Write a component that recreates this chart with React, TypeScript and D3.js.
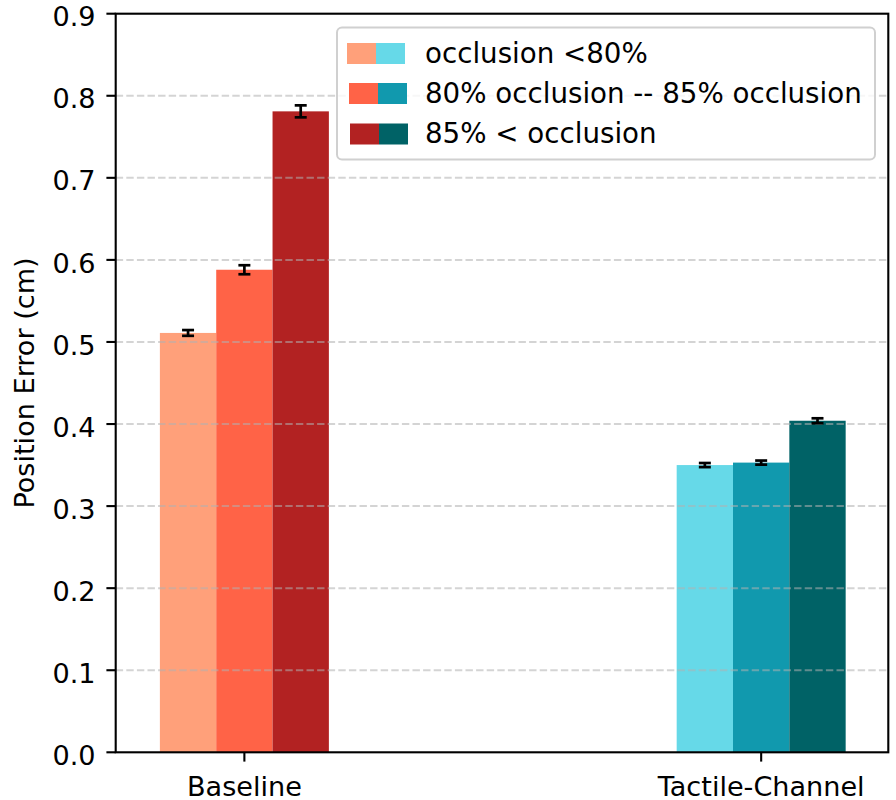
import React, { useEffect, useRef } from "react";
import * as d3 from "d3";

// chart values
const groups = ["Baseline", "Tactile-Channel"];
const levels = [
  "occlusion <80%",
  "80% occlusion -- 85% occlusion",
  "85% < occlusion",
];
const baselineMeans = [0.511, 0.588, 0.781];
const baselineErrs = [0.0035, 0.0055, 0.0073];
const tactileMeans = [0.35, 0.353, 0.404];
const tactileErrs = [0.0025, 0.0025, 0.003];
const baselineColors = ["#FFA07A", "#FF6347", "#B22222"];
const tactileColors = ["#66D9E8", "#1199AE", "#006266"];
const yTickValues = [0, 0.1, 0.2, 0.3, 0.4, 0.5, 0.6, 0.7, 0.8, 0.9];

export default function App() {
  const ref = useRef<SVGSVGElement | null>(null);

  useEffect(() => {
    const width = 896;
    const height = 800;
    const left = 115.7;
    const right = 888.3;
    const top = 13.7;
    const bottom = 752.3;
    const fontSize = 27.1;
    const legendFont = 27.7;
    const barWidth = 0.109;
    const font = "DejaVu Sans, sans-serif";

    const svg = d3.select(ref.current);
    svg.selectAll("*").remove();
    svg.attr("width", width).attr("height", height);

    const x = d3.scaleLinear().domain([-0.249, 1.246]).range([left, right]);
    const y = d3.scaleLinear().domain([0, 0.9]).range([bottom, top]);

    // rows of bars: one per group
    const rows = groups.map((g, gi) => ({
      name: g,
      pos: gi,
      means: gi === 0 ? baselineMeans : tactileMeans,
      errs: gi === 0 ? baselineErrs : tactileErrs,
      colors: gi === 0 ? baselineColors : tactileColors,
    }));

    const bars = rows.flatMap((r) =>
      r.means.map((m, i) => ({
        center: r.pos + (i - 1) * barWidth,
        value: m,
        err: r.errs[i],
        color: r.colors[i],
      }))
    );

    // bars
    svg
      .append("g")
      .selectAll("rect")
      .data(bars)
      .join("rect")
      .attr("x", (d) => x(d.center - barWidth / 2))
      .attr("width", (d) => x(d.center + barWidth / 2) - x(d.center - barWidth / 2))
      .attr("y", (d) => y(d.value))
      .attr("height", (d) => y(0) - y(d.value))
      .attr("fill", (d) => d.color);

    // dashed grid, drawn above bars
    svg
      .append("g")
      .selectAll("line")
      .data(yTickValues.filter((t) => t > 0 && t < 0.9))
      .join("line")
      .attr("x1", left)
      .attr("x2", right)
      .attr("y1", (d) => y(d))
      .attr("y2", (d) => y(d))
      .attr("stroke", "#b0b0b0")
      .attr("stroke-opacity", 0.55)
      .attr("stroke-width", 2)
      .attr("stroke-dasharray", "7.4,3.2");

    // error bars
    const eb = svg.append("g").attr("stroke", "#000").attr("stroke-width", 2.7);
    bars.forEach((d) => {
      const cx = x(d.center);
      const y0 = y(d.value - d.err);
      const y1 = y(d.value + d.err);
      eb.append("line").attr("x1", cx).attr("x2", cx).attr("y1", y0).attr("y2", y1);
      [y0, y1].forEach((yy) =>
        eb
          .append("line")
          .attr("x1", cx - 6)
          .attr("x2", cx + 6)
          .attr("y1", yy)
          .attr("y2", yy)
      );
    });

    // spines
    svg
      .append("rect")
      .attr("x", left)
      .attr("y", top)
      .attr("width", right - left)
      .attr("height", bottom - top)
      .attr("fill", "none")
      .attr("stroke", "#000")
      .attr("stroke-width", 2.1);

    // y ticks
    const yAxis = svg.append("g");
    yTickValues.forEach((t) => {
      yAxis
        .append("line")
        .attr("x1", left - 9.3)
        .attr("x2", left)
        .attr("y1", y(t))
        .attr("y2", y(t))
        .attr("stroke", "#000")
        .attr("stroke-width", 2.1);
      yAxis
        .append("text")
        .attr("x", 95.5)
        .attr("y", y(t) + 12.6)
        .attr("text-anchor", "end")
        .style("font-family", font)
        .style("font-size", `${fontSize}px`)
        .text(d3.format(".1f")(t));
    });

    // x ticks
    const xAxis = svg.append("g");
    rows.forEach((r) => {
      xAxis
        .append("line")
        .attr("x1", x(r.pos))
        .attr("x2", x(r.pos))
        .attr("y1", bottom)
        .attr("y2", bottom + 9.3)
        .attr("stroke", "#000")
        .attr("stroke-width", 2.1);
      xAxis
        .append("text")
        .attr("x", x(r.pos))
        .attr("y", 796)
        .attr("text-anchor", "middle")
        .style("font-family", font)
        .style("font-size", `${fontSize}px`)
        .text(r.name);
    });

    // y label
    svg
      .append("text")
      .attr("transform", `translate(34,${(top + bottom) / 2}) rotate(-90)`)
      .attr("text-anchor", "middle")
      .style("font-family", font)
      .style("font-size", `${fontSize}px`)
      .text("Position Error (cm)");

    // legend
    const lg = svg.append("g");
    lg.append("rect")
      .attr("x", 337)
      .attr("y", 27.5)
      .attr("width", 538)
      .attr("height", 132)
      .attr("rx", 5)
      .attr("fill", "#fff")
      .attr("fill-opacity", 0.8)
      .attr("stroke", "#d0d0d0")
      .attr("stroke-width", 2);

    const rowY = [52.5, 92.5, 133];
    const handleX = [347, 349, 350];
    levels.forEach((label, i) => {
      const cy = rowY[i];
      lg.append("rect")
        .attr("x", handleX[i])
        .attr("y", cy - 9.5)
        .attr("width", 29)
        .attr("height", 21)
        .attr("fill", baselineColors[i]);
      lg.append("rect")
        .attr("x", handleX[i] + 29)
        .attr("y", cy - 9.5)
        .attr("width", 29)
        .attr("height", 21)
        .attr("fill", tactileColors[i]);
      lg.append("text")
        .attr("x", 425)
        .attr("y", cy + 10)
        .style("font-family", font)
        .style("font-size", `${legendFont}px`)
        .text(label);
    });
  }, []);

  return (
    <svg
      ref={ref}
      style={{ position: "absolute", left: 0, top: 0, background: "#fff" }}
    />
  );
}
